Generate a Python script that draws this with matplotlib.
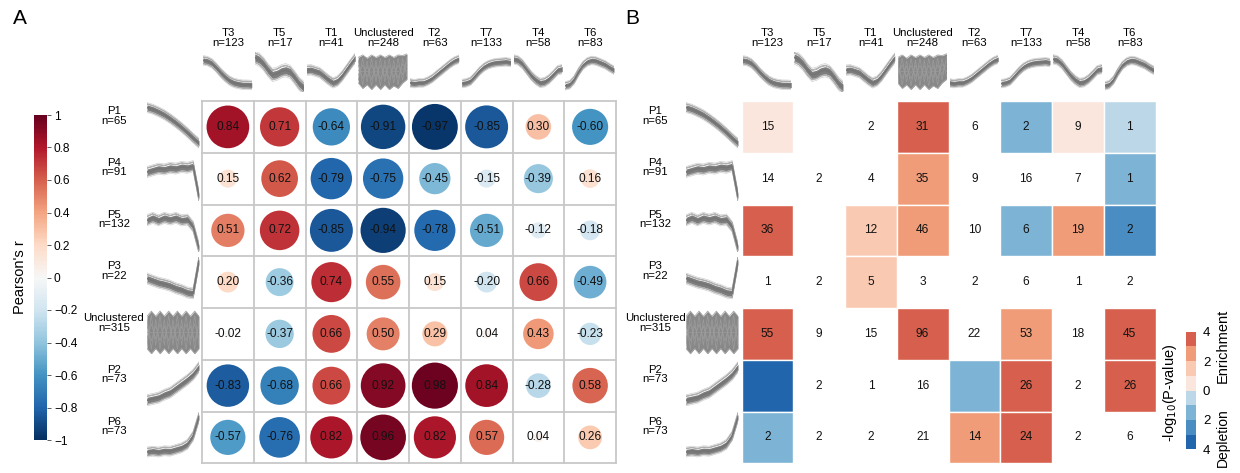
import numpy as np
import matplotlib
matplotlib.use('Agg')
import matplotlib.pyplot as plt
from matplotlib.patches import Circle, Rectangle
from matplotlib import colors as mcolors
from matplotlib.cm import ScalarMappable

plt.rcParams['font.family'] = ['Liberation Sans', 'DejaVu Sans']

# ---------------- data ----------------
col_names = ['T3', 'T5', 'T1', 'Unclustered', 'T2', 'T7', 'T4', 'T6']
col_n = [123, 17, 41, 248, 63, 133, 58, 83]
row_names = ['P1', 'P4', 'P5', 'P3', 'Unclustered', 'P2', 'P6']
row_n = [65, 91, 132, 22, 315, 73, 73]

pearson_r = [
    [0.84, 0.71, -0.64, -0.91, -0.97, -0.85, 0.30, -0.60],
    [0.15, 0.62, -0.79, -0.75, -0.45, -0.15, -0.39, 0.16],
    [0.51, 0.72, -0.85, -0.94, -0.78, -0.51, -0.12, -0.18],
    [0.20, -0.36, 0.74, 0.55, 0.15, -0.20, 0.66, -0.49],
    [-0.02, -0.37, 0.66, 0.50, 0.29, 0.04, 0.43, -0.23],
    [-0.83, -0.68, 0.66, 0.92, 0.98, 0.84, -0.28, 0.58],
    [-0.57, -0.76, 0.82, 0.96, 0.82, 0.57, 0.04, 0.26],
]

overlap_counts = [
    [15, 0, 2, 31, 6, 2, 9, 1],
    [14, 2, 4, 35, 9, 16, 7, 1],
    [36, 0, 12, 46, 10, 6, 19, 2],
    [1, 2, 5, 3, 2, 6, 1, 2],
    [55, 9, 15, 96, 22, 53, 18, 45],
    [0, 2, 1, 16, 0, 26, 2, 26],
    [2, 2, 2, 21, 14, 24, 2, 6],
]

# signed significance bin: + enrichment, - depletion, 0 not significant
enrich_level = [
    [1, 0, 0, 4, 0, -2, 1, -1],
    [0, 0, 0, 3, 0, 0, 0, -2],
    [4, 0, 2, 3, 0, -2, 3, -3],
    [0, 0, 2, 0, 0, 0, 0, 0],
    [4, 0, 0, 4, 0, 3, 0, 4],
    [-4, 0, 0, 0, -2, 4, 0, 4],
    [-2, 0, 0, 0, 3, 4, 0, 0],
]
legend_ticks = [4, 2, 0, -2, -4]
legend_ticklabels = ['4', '2', '0', '2', '4']

# cluster mean profiles (normalised) and spread of the bundle
col_profiles = [
    [0.82, 0.80, 0.74, 0.62, 0.48, 0.36, 0.26, 0.20, 0.17, 0.15, 0.15, 0.14],
    [0.90, 0.84, 0.72, 0.55, 0.42, 0.45, 0.52, 0.55, 0.50, 0.35, 0.18, 0.07],
    [0.55, 0.56, 0.52, 0.48, 0.38, 0.28, 0.20, 0.25, 0.38, 0.55, 0.72, 0.88],
    None,
    [0.20, 0.18, 0.20, 0.20, 0.25, 0.32, 0.42, 0.52, 0.62, 0.72, 0.80, 0.85],
    [0.18, 0.20, 0.25, 0.38, 0.52, 0.63, 0.70, 0.74, 0.76, 0.77, 0.78, 0.76],
    [0.85, 0.82, 0.72, 0.56, 0.40, 0.28, 0.20, 0.22, 0.30, 0.42, 0.55, 0.58],
    [0.12, 0.15, 0.28, 0.50, 0.68, 0.78, 0.82, 0.80, 0.75, 0.70, 0.62, 0.55],
]
col_spread = [0.10, 0.14, 0.11, 0.0, 0.09, 0.09, 0.10, 0.09]
col_uncl_hi = [0.90, 0.97, 0.88, 0.97, 0.90, 0.97, 0.90, 0.97, 0.90, 0.97, 0.95, 1.00]
col_uncl_lo = [0.20, 0.05, 0.15, 0.02, 0.15, 0.02, 0.15, 0.02, 0.12, 0.05, 0.20, 0.30]

row_profiles = [
    [0.92, 0.88, 0.82, 0.75, 0.66, 0.56, 0.45, 0.33, 0.20, 0.08],
    [0.62, 0.66, 0.70, 0.68, 0.72, 0.70, 0.74, 0.72, 0.76, 0.04],
    [0.70, 0.76, 0.70, 0.76, 0.72, 0.76, 0.70, 0.72, 0.55, 0.04],
    [0.55, 0.50, 0.45, 0.42, 0.38, 0.32, 0.28, 0.22, 0.20, 0.96],
    None,
    [0.12, 0.15, 0.18, 0.25, 0.30, 0.40, 0.50, 0.60, 0.72, 0.90],
    [0.12, 0.14, 0.12, 0.15, 0.14, 0.18, 0.22, 0.30, 0.50, 0.95],
]
row_spread = [0.09, 0.10, 0.10, 0.10, 0.0, 0.10, 0.09]
row_uncl_hi = [0.88, 1.0, 0.88, 1.0, 0.88, 1.0, 0.88, 1.0, 0.88, 1.0, 0.88, 1.0, 0.88]
row_uncl_lo = [0.12, 0.0, 0.12, 0.0, 0.12, 0.0, 0.12, 0.0, 0.12, 0.0, 0.12, 0.0, 0.12]

# ---------------- styling ----------------
enrich_colors = {4: '#D6604D', 3: '#F09C78', 2: '#FAC9B2', 1: '#FAE6DC',
                 -1: '#BCD8E8', -2: '#7DB4D6', -3: '#4A8DC2', -4: '#2166AC'}
cmap = plt.get_cmap('RdBu_r')
norm = mcolors.Normalize(-1, 1)

W, H = 1240, 473
fig = plt.figure(figsize=(W / 100, H / 100), dpi=100)


def ax_px(x, y, w, h):
    return fig.add_axes([x / W, 1 - (y + h) / H, w / W, h / H])


def draw_bundle(ax, prof, spread, hi=None, lo=None):
    if prof is None:
        hi = np.array(hi)
        lo = np.array(lo)
        x = np.arange(len(hi))
        ax.fill_between(x, lo, hi, color='#888888', lw=0)
        for f in (0.1, 0.3, 0.5, 0.7, 0.9):
            alt = np.where(x % 2 == 0, f, 1 - f)
            ax.plot(x, lo + (hi - lo) * alt, color='#9c9c9c', lw=0.5)
        ax.plot(x, hi, color='#a8a8a8', lw=0.6)
        ax.plot(x, lo, color='#a8a8a8', lw=0.6)
        n = len(hi)
    else:
        p = np.array(prof)
        x = np.arange(len(p))
        ax.fill_between(x, p - 0.7 * spread, p + 0.7 * spread, color='#7d7d7d', lw=0)
        for k in (-1.3, 1.3):
            ax.plot(x, p + k * spread, color='#d0d0d0', lw=0.5)
        for k in (-1.0, -0.85, 0.85, 1.0):
            ax.plot(x, p + k * spread, color='#a5a5a5', lw=0.6)
        ax.plot(x, p, color='#747474', lw=1.2)
        n = len(p)
    ax.set_xlim(0, n - 1)
    ax.set_ylim(-0.05, 1.05)
    ax.axis('off')


LAB_FS = 8.2
CELL_FS = 8.6
GRID_Y = 101
CELL = 51.75
NR, NC = len(row_names), len(col_names)


def draw_headers(grid_x, row_lab_x, row_thumb_x):
    for j in range(NC):
        cx = grid_x + CELL * (j + 0.5)
        fig.text(cx / W, 1 - 38 / H, f'{col_names[j]}\nn={col_n[j]}', ha='center', va='center',
                 fontsize=LAB_FS, linespacing=0.95)
        tax = ax_px(grid_x + CELL * j + 1, 52, CELL - 3, 40)
        draw_bundle(tax, col_profiles[j], col_spread[j], col_uncl_hi, col_uncl_lo)
    for i in range(NR):
        cy = GRID_Y + CELL * (i + 0.5)
        fig.text(row_lab_x / W, 1 - (cy - 11) / H, f'{row_names[i]}\nn={row_n[i]}', ha='center',
                 va='center', fontsize=LAB_FS, linespacing=0.95)
        tax = ax_px(row_thumb_x, GRID_Y + CELL * i + 1, 52, CELL - 5)
        draw_bundle(tax, row_profiles[i], row_spread[i], row_uncl_hi, row_uncl_lo)


# ---------------- Panel A ----------------
GA_X = 202
draw_headers(GA_X, 114, 147)
axA = ax_px(GA_X, GRID_Y, CELL * NC, CELL * NR)
axA.set_xlim(0, NC)
axA.set_ylim(NR, 0)
axA.axis('off')
for i in range(NR):
    for j in range(NC):
        r = pearson_r[i][j]
        rad = 0.45 * np.sqrt(abs(r))
        axA.add_patch(Circle((j + 0.5, i + 0.5), rad, facecolor=cmap(norm(r)), edgecolor='none'))
        axA.text(j + 0.5, i + 0.5, f'{r:.2f}', ha='center', va='center', fontsize=CELL_FS, color='#111111')
for k in range(NC + 1):
    axA.plot([k, k], [0, NR], color='#c8c8c8', lw=1.3, clip_on=False)
for k in range(NR + 1):
    axA.plot([0, NC], [k, k], color='#c8c8c8', lw=1.3, clip_on=False)

cax = ax_px(34, 115, 13, 325)
cb = fig.colorbar(ScalarMappable(norm=norm, cmap=cmap), cax=cax)
cb.outline.set_visible(False)
cb_ticks = np.round(np.arange(-1, 1.01, 0.2), 1)
cb.set_ticks(cb_ticks)
cb.set_ticklabels([('1' if t == 1 else '0' if t == 0 else ('\u22121' if t == -1 else f'{t:g}'.replace('-', '\u2212')))
                   for t in cb_ticks])
cax.tick_params(labelsize=8.6, length=3, width=0.6, color='#444444', pad=2)
fig.text(20 / W, 1 - 277 / H, "Pearson's r", rotation=90, ha='center', va='center', fontsize=10.5)

fig.text(20 / W, 1 - 18 / H, 'A', ha='center', va='center', fontsize=15)

# ---------------- Panel B ----------------
GB_X = 741.5
draw_headers(GB_X, 655, 686)
axB = ax_px(GB_X, GRID_Y, CELL * NC, CELL * NR)
axB.set_xlim(0, NC)
axB.set_ylim(NR, 0)
axB.axis('off')
for i in range(NR):
    for j in range(NC):
        lev = enrich_level[i][j]
        if lev != 0:
            axB.add_patch(Rectangle((j, i), 1, 1, facecolor=enrich_colors[lev], edgecolor='white', lw=1.0))
        c = overlap_counts[i][j]
        if c > 0:
            axB.text(j + 0.5, i + 0.5, str(c), ha='center', va='center', fontsize=CELL_FS, color='#111111')

fig.text(632 / W, 1 - 18 / H, 'B', ha='center', va='center', fontsize=15)

# legend for panel B
lax = ax_px(1186, 317, 10, 147)
lax.set_xlim(0, 1)
lax.set_ylim(-5, 5)
for lev, col in enrich_colors.items():
    lo = lev - 1 if lev > 0 else lev
    lax.add_patch(Rectangle((0, lo), 1, 1, facecolor=col, edgecolor='none'))
lax.set_xticks([])
lax.set_yticks(legend_ticks)
lax.set_yticklabels(legend_ticklabels)
lax.yaxis.tick_right()
lax.tick_params(axis='y', length=0, labelsize=9.5, pad=5)
for s in lax.spines.values():
    s.set_visible(False)
fig.text(1170 / W, 1 - 393 / H, '-log$_{10}$(P-value)', rotation=90, ha='center', va='center', fontsize=10.5)
fig.text(1223 / W, 1 - 346 / H, 'Enrichment', rotation=90, ha='center', va='center', fontsize=10.5)
fig.text(1223 / W, 1 - 438 / H, 'Depletion', rotation=90, ha='center', va='center', fontsize=10)

fig.savefig('out.png', dpi=100)
